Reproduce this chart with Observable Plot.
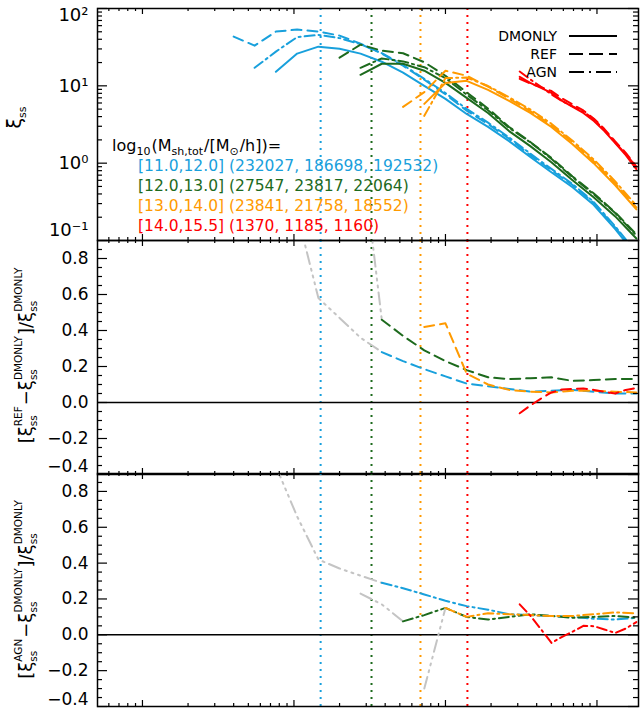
<!DOCTYPE html>
<html>
<head>
<meta charset="utf-8">
<script src="https://cdn.jsdelivr.net/npm/d3@7"></script>
<script src="https://cdn.jsdelivr.net/npm/@observablehq/plot@0.6"></script>
<style>
  html, body { margin: 0; padding: 0; background: #fff; }
  #wrap { position: relative; width: 644px; height: 708px; overflow: hidden; background: #fff; font-family: "DejaVu Sans", sans-serif; }
  #wrap > svg { position: absolute; left: 0; overflow: visible; background: transparent; }
</style>
</head>
<body>
<div id="wrap"></div>
<script>
// ---------------- data ----------------
const r = [0.40,0.55,0.76,1.05,1.45,2.0,2.75,3.8,5.25,7.25,10,13.8,19.1,26.3,36.3,50,69,95,132,182];
const rRed = [30.9,36.3,42.7,50.1,58.9,69.2,81.3,95.5,112,132,155,182];

// xi_ss, mass bin [11.0,12.0]
const blueDM  = [null,null,15.2,26.1,32.1,30.2,26.1,20.5,14.8,10.0,6.78,4.33,2.94,1.93,1.20,0.764,0.488,0.29,0.14,0.064];
const blueREF = [43.3,33.1,50.3,53.4,50.3,44.6,35.1,26.1,18.2,12.0,7.76,4.78,3.21,2.07,1.27,0.811,0.522,0.307,0.147,0.067];
const blueAGN = [null,17.1,27.7,42.7,45.5,41.4,34.6,26.4,18.6,12.3,8.06,5.03,3.35,2.15,1.33,0.843,0.537,0.316,0.152,0.070];
const blueRefRatio = [null,null,2.3,1.05,0.58,0.47,0.36,0.28,0.23,0.185,0.145,0.105,0.09,0.075,0.06,0.065,0.07,0.06,0.05,0.05];
const blueAgnRatio = [null,null,0.94,0.66,0.42,0.37,0.33,0.29,0.26,0.225,0.19,0.16,0.14,0.115,0.11,0.105,0.10,0.09,0.085,0.095];

// [12.0,13.0]
const greenDM  = [null,null,null,null,null,null,13.9,19.3,19.3,15.7,10.9,6.98,4.46,2.60,1.66,1.03,0.601,0.362,0.205,0.106];
const greenREF = [null,null,null,null,null,23.1,34.1,28.5,26.4,20.2,13.5,8.24,5.09,2.94,1.88,1.17,0.674,0.408,0.231,0.120];
const greenAGN = [null,null,null,null,null,null,17.1,22.6,20.7,17.4,12.6,7.69,4.83,2.87,1.86,1.14,0.658,0.398,0.226,0.116];
const greenRefRatio = [null,null,null,null,null,null,1.45,0.46,0.37,0.29,0.23,0.18,0.14,0.13,0.135,0.14,0.12,0.125,0.13,0.13];
const greenAgnRatio = [null,null,null,null,null,null,0.23,0.17,0.075,0.11,0.15,0.10,0.085,0.10,0.115,0.105,0.095,0.10,0.105,0.095];

// [13.0,14.0]
const orangeDM  = [null,null,null,null,null,null,null,null,null,5.84,10.9,11.6,8.87,6.39,4.46,2.94,1.76,1.0,0.518,0.253];
const orangeREF = [null,null,null,null,null,null,null,null,5.34,8.28,15.7,13.5,9.77,6.84,4.72,3.10,1.88,1.06,0.548,0.267];
const orangeAGN = [null,null,null,null,null,null,null,null,null,4.09,12.6,12.8,9.94,7.13,4.95,3.24,1.95,1.12,0.582,0.283];
const orangeRefRatio = [null,null,null,null,null,null,null,null,null,0.42,0.44,0.16,0.10,0.07,0.06,0.056,0.065,0.065,0.06,0.056];
const orangeAgnRatio = [null,null,null,null,null,null,null,null,null,-0.30,0.15,0.10,0.12,0.115,0.11,0.105,0.105,0.115,0.125,0.12];

// [14.0,15.5]
const redDM  = [13.1,10.9,9.42,8.11,6.39,5.34,4.46,3.51,2.60,1.82,1.27,0.836];
const redREF = [12.3,10.7,9.63,8.56,6.85,5.74,4.81,3.76,2.76,1.91,1.36,0.903];
const redAGN = [15.3,12.1,9.71,7.75,6.32,5.44,4.68,3.68,2.68,1.84,1.31,0.895];
const redRefRatio = [-0.06,-0.017,0.022,0.056,0.072,0.075,0.078,0.07,0.06,0.05,0.07,0.08];
const redAgnRatio = [0.17,0.107,0.031,-0.045,-0.011,0.018,0.05,0.048,0.03,0.01,0.035,0.071];

// r below which ratio curves are drawn grey
const refGreyUntil = [3.8, 3.8, 7.25, 30.9];
const agnGreyUntil = [3.8, 5.25, 10, 30.9];

// vertical dotted markers
const markerR = [1.50, 3.25, 6.84, 13.96];

// legend text
const binRanges = ["[11.0,12.0]", "[12.0,13.0]", "[13.0,14.0]", "[14.0,15.5]"];
const binCounts = ["(232027, 186698, 192532)", "(27547, 23817, 22064)", "(23841, 21758, 18552)", "(1370, 1185, 1160)"];
const modelNames = ["DMONLY", "REF", "AGN"];

// ticks
const xDomain = [0.0505, 188];
const xMajor = [0.1, 1, 10, 100];
const xMinor = [0.06,0.07,0.08,0.09,0.2,0.3,0.4,0.5,0.6,0.7,0.8,0.9,2,3,4,5,6,7,8,9,20,30,40,50,60,70,80,90];
const yTopMajor = [0.1, 1, 10, 100];
const yTopLabels = ["10⁻¹", "10⁰", "10¹", "10²"];
const yTopMinor = [0.2,0.3,0.4,0.5,0.6,0.7,0.8,0.9,2,3,4,5,6,7,8,9,20,30,40,50,60,70,80,90];
const yRatMajor = [-0.4,-0.2,0,0.2,0.4,0.6,0.8];
const yRatLabels = ["−0.4","−0.2","0.0","0.2","0.4","0.6","0.8"];
const yRatMinor = [-0.35,-0.3,-0.25,-0.15,-0.1,-0.05,0.05,0.1,0.15,0.25,0.3,0.35,0.45,0.5,0.55,0.65,0.7,0.75,0.85];

// ---------------- styles ----------------
const colors = ["#18a0dc", "#1d6a1d", "#ff9a00", "#ff0000"];
const grey = "#c4c4c4";
const DASH = "10,6", DASHDOT = "10,4,2,4", GREYDASH = "12,5,2,5,2,5,2,5", DOT = "2,5";

const bins = [
  {r: r, dm: blueDM, ref: blueREF, agn: blueAGN, rr: blueRefRatio, ar: blueAgnRatio},
  {r: r, dm: greenDM, ref: greenREF, agn: greenAGN, rr: greenRefRatio, ar: greenAgnRatio},
  {r: r, dm: orangeDM, ref: orangeREF, agn: orangeAGN, rr: orangeRefRatio, ar: orangeAgnRatio},
  {r: rRed, dm: redDM, ref: redREF, agn: redAGN, rr: redRefRatio, ar: redAgnRatio}
];
const pts = (xs, ys) => xs.map((x, i) => ({r: x, v: ys[i]})).filter(d => d.v != null);

const wrap = document.getElementById("wrap");
const INNER_W = 541;

// frame, inward ticks on all four sides, left labels (groups of [values, dy])
function frameAxes(innerH, yMajor, yMinor, yFmt, labelSize, labelGroups) {
  const s = {stroke: "black", strokeWidth: 1.2};
  const m = [
    Plot.frame({stroke: "black", strokeWidth: 1.5}),
    Plot.tickX(xMajor, {x: d => d, insetBottom: innerH - 6, ...s}),
    Plot.tickX(xMinor, {x: d => d, insetBottom: innerH - 3, ...s}),
    Plot.tickX(xMajor, {x: d => d, insetTop: innerH - 6, ...s}),
    Plot.tickX(xMinor, {x: d => d, insetTop: innerH - 3, ...s}),
    Plot.tickY(yMajor, {y: d => d, insetRight: INNER_W - 10, ...s}),
    Plot.tickY(yMinor, {y: d => d, insetRight: INNER_W - 5, ...s}),
    Plot.tickY(yMajor, {y: d => d, insetLeft: INNER_W - 10, ...s}),
    Plot.tickY(yMinor, {y: d => d, insetLeft: INNER_W - 5, ...s})
  ];
  for (const [vals, dy] of labelGroups) {
    m.push(Plot.axisY(vals, {anchor: "left", tickSize: 0, tickPadding: 9, tickFormat: yFmt, fontSize: labelSize, dy, label: null}));
  }
  return m;
}

function panel({height, top, mt, mb, y, marks, axes}) {
  const svg = Plot.plot({
    width: 644, height, marginLeft: 97, marginRight: 6, marginTop: mt, marginBottom: mb,
    style: {fontFamily: "'DejaVu Sans', sans-serif", background: "transparent", overflow: "visible"},
    x: {type: "log", domain: xDomain, axis: null},
    y: {...y, axis: null, label: null},
    marks: [...marks, ...axes]
  });
  svg.style.position = "absolute";
  svg.style.top = top + "px";
  svg.style.left = "0px";
  wrap.appendChild(svg);
}

function markerRules() {
  return markerR.map((x, i) => Plot.ruleX([x], {stroke: colors[i], strokeWidth: 2, strokeDasharray: DOT}));
}

// ---- top panel ----
const topMarks = [...markerRules()];
bins.forEach((b, i) => {
  topMarks.push(Plot.line(pts(b.r, b.dm), {x: "r", y: "v", stroke: colors[i], strokeWidth: 2, clip: true}));
  topMarks.push(Plot.line(pts(b.r, b.ref), {x: "r", y: "v", stroke: colors[i], strokeWidth: 2, strokeDasharray: DASH, clip: true}));
  topMarks.push(Plot.line(pts(b.r, b.agn), {x: "r", y: "v", stroke: colors[i], strokeWidth: 2, strokeDasharray: DASHDOT, clip: true}));
});
const topFmt = new Map(yTopMajor.map((v, i) => [v, yTopLabels[i]]));
panel({height: 240, top: 0, mt: 8, mb: 0, y: {type: "log", domain: [0.1, 100]}, marks: topMarks,
  axes: frameAxes(232, yTopMajor, yTopMinor, d => topFmt.get(d), 18,
    [[yTopMajor.slice(1, 3), 0], [yTopMajor.slice(3), 7], [yTopMajor.slice(0, 1), -10]])});

// ---- ratio panels ----
const ratFmt = new Map(yRatMajor.map((v, i) => [v, yRatLabels[i]]));
function ratioMarks(key, cuts, dash) {
  const m = [...markerRules(), Plot.ruleY([0], {stroke: "black", strokeWidth: 1.5})];
  bins.forEach((b, i) => {
    const p = pts(b.r, b[key]);
    const g = p.filter(d => d.r <= cuts[i]);
    const c = p.filter(d => d.r >= cuts[i]);
    if (g.length > 1) m.push(Plot.line(g, {x: "r", y: "v", stroke: grey, strokeWidth: 2, strokeDasharray: GREYDASH, clip: true}));
    m.push(Plot.line(c, {x: "r", y: "v", stroke: colors[i], strokeWidth: 2, strokeDasharray: dash, clip: true}));
  });
  return m;
}
panel({height: 234, top: 240, mt: 0, mb: 0, y: {domain: [-0.4, 0.9]}, marks: ratioMarks("rr", refGreyUntil, DASH),
  axes: frameAxes(234, yRatMajor, yRatMinor, d => ratFmt.get(d), 17, [[yRatMajor.slice(1), 0], [yRatMajor.slice(0, 1), -8]])});
panel({height: 235, top: 473, mt: 0, mb: 2, y: {domain: [-0.4, 0.9]}, marks: ratioMarks("ar", agnGreyUntil, DASHDOT),
  axes: frameAxes(233, yRatMajor, yRatMinor, d => ratFmt.get(d), 17, [[yRatMajor.slice(1), 0], [yRatMajor.slice(0, 1), -7]])});

// ---------------- overlay text / legend ----------------
const ov = d3.select("#wrap").append("svg")
  .attr("width", 644).attr("height", 708)
  .style("top", "0px").style("pointer-events", "none")
  .attr("font-family", "'DejaVu Sans', sans-serif");

function rich(pieces, {x, y, rotate = 0, anchor = "start", size = 15, sub = 10, fill = "black", subDy = 4, supDy = -9}) {
  const g = ov.append("g").attr("transform", `translate(${x},${y}) rotate(${rotate})`).attr("fill", fill);
  let cx = 0; const nodes = [];
  for (const p of pieces) {
    if (typeof p === "string") {
      const t = g.append("text").attr("x", cx).attr("y", 0).attr("font-size", size).text(p);
      nodes.push(t); cx += t.node().getComputedTextLength();
    } else {
      let w = 0;
      if (p.sub) { const t = g.append("text").attr("x", cx).attr("y", subDy).attr("font-size", sub).text(p.sub); nodes.push(t); w = Math.max(w, t.node().getComputedTextLength()); }
      if (p.sup) { const t = g.append("text").attr("x", cx).attr("y", supDy).attr("font-size", sub).text(p.sup); nodes.push(t); w = Math.max(w, t.node().getComputedTextLength()); }
      cx += w + 1;
    }
  }
  const shift = anchor === "middle" ? -cx / 2 : anchor === "end" ? -cx : 0;
  for (const t of nodes) t.attr("x", +t.attr("x") + shift);
}

// y titles
rich(["ξ", {sub: "ss"}], {x: 21, y: 117, rotate: -90, anchor: "middle", size: 19, sub: 11, subDy: 5});
rich(["[", "ξ", {sub: "ss", sup: "REF"}, "−", "ξ", {sub: "ss", sup: "DMONLY"}, "]/", "ξ", {sub: "ss", sup: "DMONLY"}],
  {x: 32, y: 355, rotate: -90, anchor: "middle", size: 18, sub: 10.5, subDy: 5, supDy: -10});
rich(["[", "ξ", {sub: "ss", sup: "AGN"}, "−", "ξ", {sub: "ss", sup: "DMONLY"}, "]/", "ξ", {sub: "ss", sup: "DMONLY"}],
  {x: 32, y: 589, rotate: -90, anchor: "middle", size: 18, sub: 10.5, subDy: 5, supDy: -10});

// mass-bin legend
rich(["log", {sub: "10"}, "(M", {sub: "sh,tot"}, "/[M", {sub: "⊙"}, "/h])="], {x: 112, y: 151, size: 16, sub: 11, subDy: 4});
binRanges.forEach((s, i) => {
  ov.append("text").attr("x", 138).attr("y", 171 + 20 * i).attr("font-size", 15.5)
    .attr("fill", colors[i]).attr("xml:space", "preserve").text(s + " " + binCounts[i]);
});

// model legend
const dashes = [null, "14,6", "15,5,2,5"];
modelNames.forEach((s, i) => {
  const yb = 36 + 18 * i;
  ov.append("text").attr("x", 557).attr("y", yb + 5).attr("font-size", 14).attr("text-anchor", "end").text(s);
  ov.append("line").attr("x1", 569).attr("x2", 617).attr("y1", yb).attr("y2", yb)
    .attr("stroke", "black").attr("stroke-width", 2).attr("stroke-dasharray", dashes[i]);
});
</script>
</body>
</html>
